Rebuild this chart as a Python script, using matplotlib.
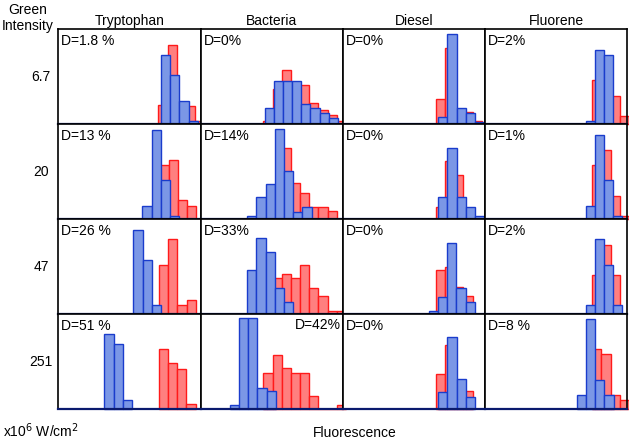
import matplotlib.pyplot as plt

plt.rcParams['font.family'] = ['Liberation Sans', 'DejaVu Sans']

samples = ["Tryptophan", "Bacteria", "Diesel", "Fluorene"]
intensities = ["6.7", "20", "47", "251"]

d_labels = [["D=1.8 %", "D=0%", "D=0%", "D=2%"],
            ["D=13 %", "D=14%", "D=0%", "D=1%"],
            ["D=26 %", "D=33%", "D=0%", "D=2%"],
            ["D=51 %", "D=42%", "D=0%", "D=8 %"]]

# first bin edge of each histogram (fluorescence, bin units)
blue_start = [[11.2, 6.98, 10.4, 10.95],
              [9.16, 5.09, 10.4, 10.95],
              [8.18, 5.09, 9.38, 10.95],
              [5.02, 3.2, 10.4, 10.0]]
red_start = [[10.9, 6.84, 10.15, 11.67],
             [11.02, 7.84, 10.15, 11.67],
             [10.98, 7.85, 10.15, 11.67],
             [10.95, 6.84, 10.15, 11.67]]

# bar heights (% of panel height)
blue_heights = [
    [[73, 52, 25, 4], [17, 46, 46, 46, 22, 17, 12, 7], [7.5, 95, 17, 12.5, 2.5], [4, 78, 73, 0]],
    [[14, 94, 41, 3], [3, 23, 37, 95, 51, 8, 13], [23, 75, 23, 13, 3], [14, 89, 41, 3]],
    [[89, 57, 10], [47, 80, 65, 28, 13], [3, 18, 75, 28, 13], [10, 79, 52, 10]],
    [[79, 69, 10], [4, 96, 96, 22, 19], [18, 76, 32, 13], [15, 95, 31, 15]],
]
red_heights = [
    [[20, 84, 22, 19, 4], [4, 37, 57, 45, 42, 23, 15, 10, 4], [27, 80, 15, 13.5, 4], [47, 60, 30, 8.5]],
    [[57, 62, 20, 14], [20, 75, 38, 28, 13, 13, 8.5], [13, 61, 47, 10, 2], [57, 73, 25, 3]],
    [[52, 79, 10, 15], [38, 42, 38, 52, 28, 19, 3, 3], [47, 50, 29, 19], [41, 73, 41]],
    [[63, 48, 42, 5], [38, 57, 43, 38, 38, 14, 0, 0, 4], [37, 67, 25, 19], [63, 58, 15, 10]],
]

fig, axes = plt.subplots(4, 4, figsize=(6.29, 4.40), dpi=100)
fig.subplots_adjust(left=58.3/629, right=627.3/629, bottom=1-409/440, top=1-29.5/440,
                    wspace=0, hspace=0)

for i in range(4):
    for j in range(4):
        ax = axes[i, j]
        rh = red_heights[i][j]
        rx = [red_start[i][j] + k for k in range(len(rh))]
        ax.bar(rx, rh, width=1, align='edge', color='#ff7f7f', edgecolor='#ff1a1a',
               linewidth=1.0, clip_on=False, zorder=2)
        bh = blue_heights[i][j]
        bx = [blue_start[i][j] + k for k in range(len(bh))]
        ax.bar(bx, bh, width=1, align='edge', color='#7b97e6', edgecolor='#1a3ccc',
               linewidth=1.0, clip_on=False, zorder=3)
        ax.set_xlim(0, 15.5)
        ax.set_ylim(0, 100)
        ax.set_xticks([])
        ax.set_yticks([])
        for s in ax.spines.values():
            s.set_color('black')
            s.set_linewidth(1.2)
            s.set_zorder(5)
        ax.spines['bottom'].set_color('#0a1a6e')
        ax.spines['bottom'].set_linewidth(1.6)
        if i == 3 and j == 1:
            ax.text(0.985, 0.89, d_labels[i][j], transform=ax.transAxes, fontsize=10,
                    ha='right', va='center')
        else:
            ax.text(0.02, 0.88, d_labels[i][j], transform=ax.transAxes, fontsize=10,
                    ha='left', va='center')
        if i == 0:
            ax.set_title(samples[j], fontsize=10, pad=3)
        if j == 0:
            ax.text(-0.12, 0.5, intensities[i], transform=ax.transAxes, fontsize=10,
                    ha='center', va='center')

fig.text(28/629, 1-10/440, "Green", ha='center', va='center', fontsize=10)
fig.text(28/629, 1-26/440, "Intensity", ha='center', va='center', fontsize=10)
fig.text(3/629, 1-431/440, r"x10$^6$ W/cm$^2$", ha='left', va='center', fontsize=10)
fig.text(355/629, 1-433/440, "Fluorescence", ha='center', va='center', fontsize=10)

plt.savefig("out.png", dpi=100)
